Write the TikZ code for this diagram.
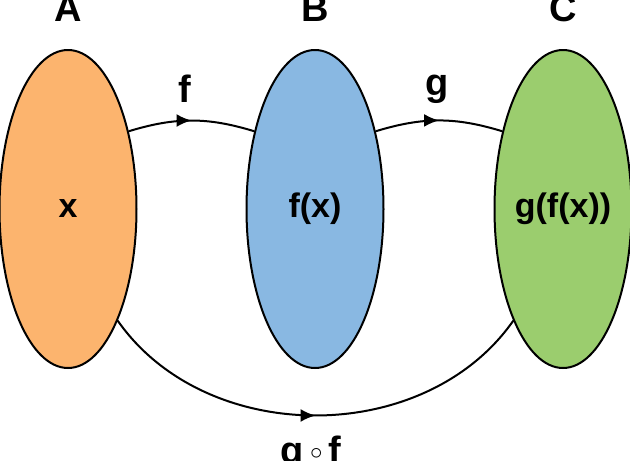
\documentclass[tikz,border=0pt]{standalone}
\usepackage{fontspec}
\setmainfont{Liberation Sans}
\usepackage{tikz}
\usetikzlibrary{shapes.geometric}
\usetikzlibrary{arrows.meta,decorations.markings}

\definecolor{setorange}{RGB}{252,180,110}
\definecolor{setblue}{RGB}{137,184,226}
\definecolor{setgreen}{RGB}{155,205,110}

\tikzset{
	setshape/.style={ellipse, draw, line width=2pt, minimum width=137pt, minimum height=318pt, inner sep=0pt, font=\fontsize{34}{40}\selectfont\bfseries},
	setname/.style={anchor=base, inner sep=0pt, font=\fontsize{38}{40}\selectfont\bfseries},
	maparrow/.style={line width=2pt, decoration={markings, mark=at position 0.5 with {\arrow{Latex[length=15pt,width=13pt]}}}, postaction={decorate}}
}

\begin{document}
\begin{tikzpicture}[x=1pt,y=1pt]
		\useasboundingbox (0,0) rectangle (630,-461);
		% Sets and their elements:
		\node[setshape, fill=setorange] (setA) at (68,-209) {x};
		\node[setshape, fill=setblue] (setB) at (315,-209) {f(x)};
		\node[setshape, fill=setgreen] (setC) at (563,-209) {g(f(x))};
		% Names:
		\node[setname] (nameA) at (68,-21) {A};
		\node[setname] (nameB) at (315,-21) {B};
		\node[setname] (nameC) at (563,-21) {C};
		\node[setname] (nameF) at (185,-102) {f};
		\node[setname] (nameG) at (437,-95) {g};
		\node[setname] (nameGF) at (311,-463) {g\,\raisebox{4pt}{\fontsize{24}{26}\selectfont$\circ$}\,f};
		% Maps:
		\draw[maparrow] (setA.52) to[bend left=17] (setB.128);
		\draw[maparrow] (setB.52) to[bend left=17] (setC.128);
		\draw[maparrow] (setA.-66) to[bend right=55] (setC.-114);
	\end{tikzpicture}
\end{document}
